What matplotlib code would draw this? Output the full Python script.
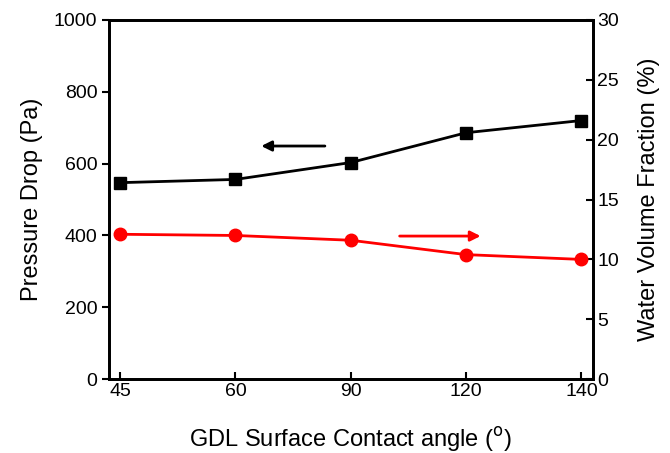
import matplotlib
matplotlib.use("Agg")
import matplotlib.pyplot as plt

plt.rcParams['font.family'] = ['Liberation Sans', 'DejaVu Sans']

# contact angle categories (plotted at equal spacing)
angles = ['45', '60', '90', '120', '140']
pressure_drop = [547, 556, 603, 686, 720]        # Pa
water_fraction = [12.1, 12.0, 11.6, 10.4, 10.0]  # %

pos = list(range(len(angles)))

fig, ax = plt.subplots(figsize=(6.7, 4.53), dpi=100)
fig.subplots_adjust(left=0.162, right=0.885, top=0.956, bottom=0.163)

ax.plot(pos, pressure_drop, color='black', lw=2, marker='s', ms=8)
ax.set_xlim(-0.1, 4.1)
ax.set_ylim(0, 1000)
ax.set_xticks(pos)
ax.set_xticklabels(angles)
ax.set_yticks(range(0, 1001, 200))
ax.set_xlabel('GDL Surface Contact angle ($^{\\mathrm{o}}$)', fontsize=17, labelpad=18)
ax.set_ylabel('Pressure Drop (Pa)', fontsize=17, labelpad=8)

ax2 = ax.twinx()
ax2.plot(pos, water_fraction, color='red', lw=2, marker='o', ms=9)
ax2.set_ylim(0, 30)
ax2.set_yticks(range(0, 31, 5))
ax2.set_ylabel('Water Volume Fraction (%)', fontsize=17, labelpad=14)

for a in (ax, ax2):
    a.tick_params(length=5, width=1.5, labelsize=14, pad=3)
    for s in a.spines.values():
        s.set_linewidth(2)
ax.tick_params(axis='x', direction='in', top=False)
ax.tick_params(axis='y', direction='out', right=False)
ax2.tick_params(axis='y', direction='in')

# arrows pointing to the matching axis
ax.annotate('', xy=(1.2, 649), xytext=(1.8, 649),
            arrowprops=dict(arrowstyle='-|>', color='black', lw=2, mutation_scale=15))
ax2.annotate('', xy=(3.15, 11.95), xytext=(2.4, 11.95),
             arrowprops=dict(arrowstyle='-|>', color='red', lw=2, mutation_scale=15))

fig.savefig('out.png')
